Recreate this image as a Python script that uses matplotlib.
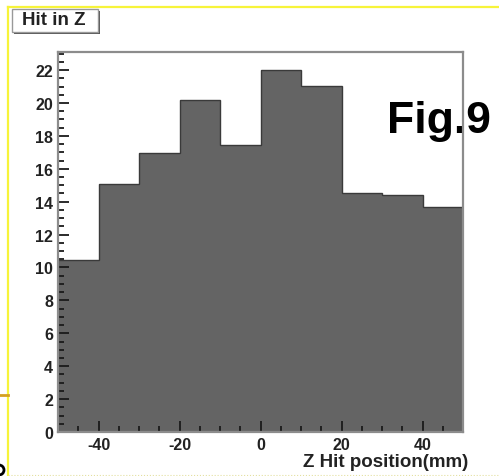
import numpy as np
import matplotlib
matplotlib.use("Agg")
import matplotlib.pyplot as plt
from matplotlib.patches import Rectangle, Ellipse
from matplotlib.lines import Line2D
from matplotlib.ticker import MultipleLocator

# Z hit histogram, 10 mm bins
bin_edges = [-50, -40, -30, -20, -10, 0, 10, 20, 30, 40, 50]
counts = [10.45, 15.1, 16.95, 20.2, 17.45, 22.0, 21.05, 14.55, 14.4, 13.7]
x_ticks = [-40, -20, 0, 20, 40]
y_ticks = [0, 2, 4, 6, 8, 10, 12, 14, 16, 18, 20, 22]

plt.rcParams['font.family'] = ['Liberation Sans', 'DejaVu Sans']
plt.rcParams['axes.unicode_minus'] = False

W, H = 499, 477
fig = plt.figure(figsize=(W / 100, H / 100), dpi=100)
fig.patch.set_facecolor("white")

def fx(px):
    return px / W

def fy(py):
    return 1 - py / H

ax = fig.add_axes([fx(58), fy(433), fx(463) - fx(58), fy(53) - fy(433)])
ax.stairs(counts, bin_edges, fill=True, color="#646464", zorder=1)
ax.stairs(counts, bin_edges, color="#3a3a3a", linewidth=1.0, zorder=1.5)

ax.set_xlim(-50, 50)
ax.set_ylim(0, 23.1)
ax.set_xticks(x_ticks)
ax.set_yticks(y_ticks)
ax.xaxis.set_minor_locator(MultipleLocator(5))
ax.yaxis.set_minor_locator(MultipleLocator(0.5))
ax.tick_params(which="both", direction="in", top=False, right=False,
               color="#1a1a1a", width=1.3)
ax.tick_params(which="major", length=8, pad=3.5, labelsize=11.5)
ax.tick_params(which="minor", length=4.5)
for lab in ax.get_xticklabels() + ax.get_yticklabels():
    lab.set_fontweight("bold")
    lab.set_color("#222222")

for sp in ax.spines.values():
    sp.set_color("#8c8c8c")
    sp.set_linewidth(1.6)

fig.text(fx(468), fy(463), "Z Hit position(mm)", ha="right", va="center",
         fontsize=13.5, fontweight="bold", color="#222222")

# histogram title box with shadow
fig.add_artist(Rectangle((fx(14), fy(35)), fx(98) - fx(12), fy(10) - fy(33),
                         transform=fig.transFigure, facecolor="#555555",
                         edgecolor="none", zorder=3))
fig.add_artist(Rectangle((fx(12), fy(33)), fx(98) - fx(12), fy(10) - fy(33),
                         transform=fig.transFigure, facecolor="white",
                         edgecolor="#999999", linewidth=1.0, zorder=3.1))
fig.text(fx(54), fy(20.5), "Hit in Z", ha="center", va="center",
         fontsize=13.5, fontweight="bold", color="#222222", zorder=3.2)

ax.text(fx(387), fy(133), "Fig.9", transform=fig.transFigure, ha="left",
        va="baseline", fontsize=32, fontweight="bold", color="black",
        clip_on=False, zorder=2)

# slide frame lines around the figure
fig.add_artist(Line2D([fx(8), 1], [fy(8), fy(8)], transform=fig.transFigure,
                      color="#f7f43a", linewidth=1.6))
fig.add_artist(Line2D([fx(8), fx(8)], [fy(8), 0], transform=fig.transFigure,
                      color="#f7f43a", linewidth=1.6))
fig.add_artist(Line2D([fx(8), 1], [fy(476), fy(476)], transform=fig.transFigure,
                      color="#e4e0a0", linewidth=0.8, linestyle=":"))
fig.add_artist(Line2D([0, fx(8)], [fy(396), fy(396)], transform=fig.transFigure,
                      color="#d4a020", linewidth=2.0))
fig.add_artist(Ellipse((fx(-1), fy(471)), fx(10), 10 / H,
                       transform=fig.transFigure, facecolor="none",
                       edgecolor="black", linewidth=2.0))

fig.savefig("out.png", dpi=100)
